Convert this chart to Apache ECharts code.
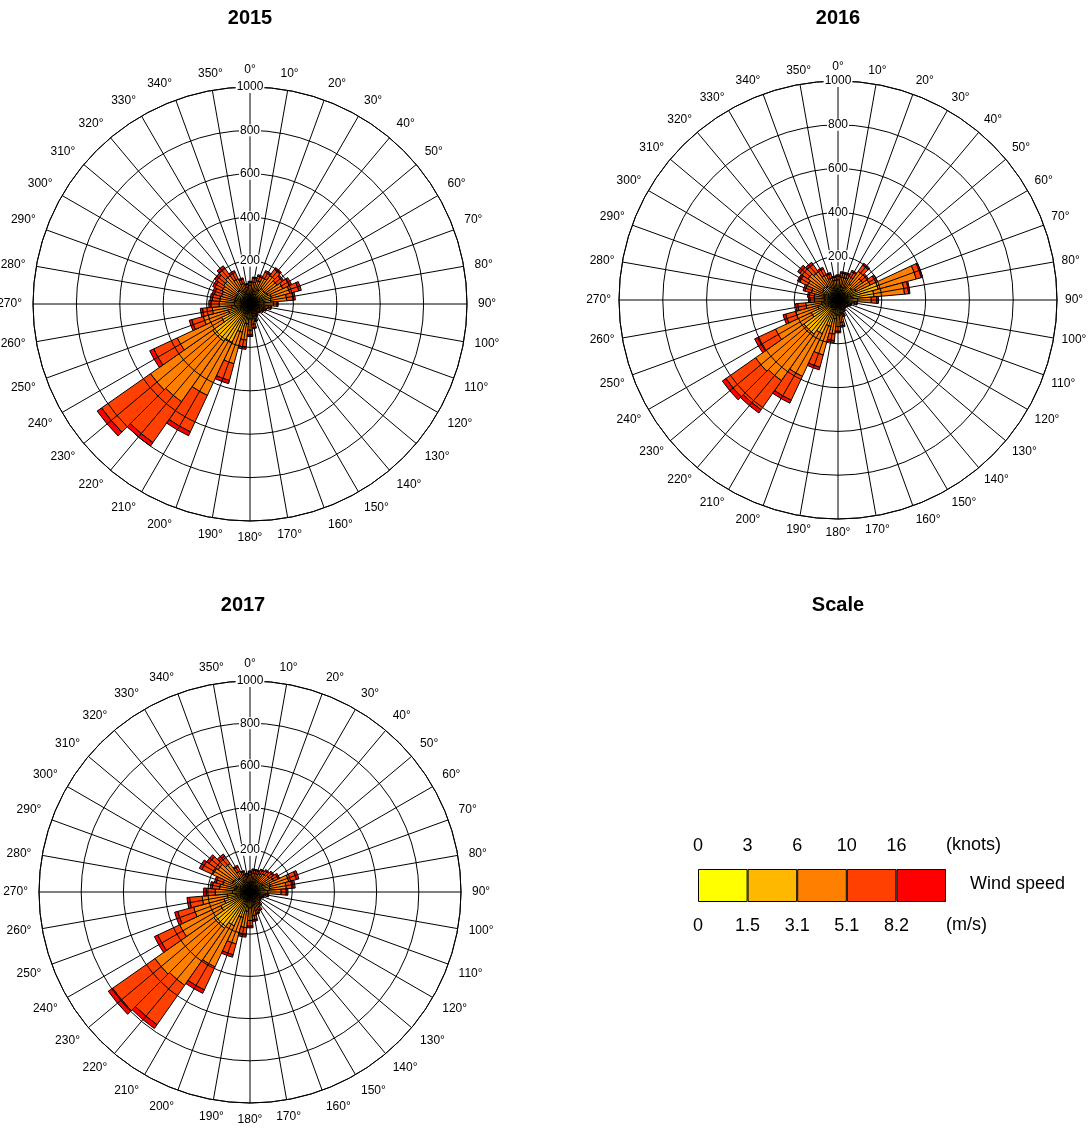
<!DOCTYPE html>
<html><head><meta charset="utf-8">
<script src="https://cdn.jsdelivr.net/npm/echarts@6/dist/echarts.min.js"></script>
<style>html,body{margin:0;padding:0;background:#fff}#c{width:1089px;height:1131px}</style>
</head><body><div id="c"></div>
<script>
// ---------- DATA ----------
const directionLabels = ['0°','10°','20°','30°','40°','50°','60°','70°','80°','90°','100°','110°','120°','130°','140°','150°','160°','170°','180°','190°','200°','210°','220°','230°','240°','250°','260°','270°','280°','290°','300°','310°','320°','330°','340°','350°'];
const years = ['2015', '2016', '2017'];
const speedClasses = ['0-1.5 m/s', '1.5-3.1 m/s', '3.1-5.1 m/s', '5.1-8.2 m/s', '>8.2 m/s'];
const knotsLabels = ['0', '3', '6', '10', '16'];
const msLabels = ['0', '1.5', '3.1', '5.1', '8.2'];
const radiusMin = 0, radiusMax = 1000, radiusStep = 200;
const angleMin = 0, angleMax = 360, angleStep = 10;

// counts per direction (0°..350°), one array per speed class
const y2015_c1 = [15,18,20,24,28,28,30,32,32,22,20,18,16,15,14,15,17,20,24,30,35,45,50,50,35,28,25,22,22,22,22,22,24,22,18,15];
const y2015_c2 = [32,38,42,50,60,58,62,70,65,42,35,28,25,22,20,23,28,36,45,62,100,150,160,160,110,75,60,50,50,48,50,52,55,45,36,30];
const y2015_c3 = [38,45,50,60,72,66,75,88,73,44,30,22,19,15,14,18,26,38,52,75,150,270,340,350,225,120,90,70,68,66,70,74,80,62,45,33];
const y2015_c4 = [15,18,21,28,35,30,35,43,31,17,11,9,7,6,5,7,10,16,22,33,80,185,230,275,120,55,45,38,35,34,37,40,44,32,20,13];
const y2015_c5 = [5,6,7,8,10,8,10,12,9,5,4,3,3,2,2,2,4,5,7,10,15,20,20,25,20,12,10,10,10,10,11,12,12,9,6,4];

const y2016_c1 = [17,20,20,22,28,25,30,40,40,30,18,15,14,13,13,14,16,20,24,28,35,40,45,45,35,26,24,20,20,22,24,25,24,22,19,17];
const y2016_c2 = [35,40,40,45,60,52,62,150,125,60,30,22,19,17,17,20,26,38,45,58,90,130,145,145,100,70,52,40,42,46,55,58,55,45,38,34];
const y2016_c3 = [40,45,45,52,72,60,70,180,140,62,28,19,15,14,14,17,25,45,52,70,135,215,260,270,180,105,72,47,48,58,76,85,78,60,47,39];
const y2016_c4 = [17,19,19,24,35,25,29,24,19,25,10,7,5,4,4,7,10,17,22,30,58,120,162,165,90,47,37,21,23,30,38,44,41,30,20,15];
const y2016_c5 = [6,6,6,7,10,8,9,6,6,8,4,2,2,2,2,2,3,5,7,9,12,15,18,20,15,12,10,7,7,9,12,13,12,8,6,5];

const y2017_c1 = [15,17,17,18,19,20,22,30,30,28,17,15,14,15,16,18,19,22,25,30,35,42,50,50,38,32,28,25,23,22,26,25,24,20,17,15];
const y2017_c2 = [30,33,33,36,39,42,46,70,65,56,30,24,21,22,26,32,35,42,50,62,90,135,160,160,115,95,80,58,52,48,68,65,58,40,32,28];
const y2017_c3 = [36,40,40,43,47,50,55,90,78,64,29,21,17,19,25,33,37,49,60,78,130,215,330,340,215,150,120,82,70,64,100,95,83,50,37,32];
const y2017_c4 = [14,15,15,17,19,21,24,38,32,24,10,7,6,7,10,13,14,20,27,35,53,120,228,245,115,78,60,43,35,32,57,52,43,23,14,11];
const y2017_c5 = [5,5,5,6,6,7,8,12,10,8,4,3,2,2,3,4,5,7,8,10,12,18,22,25,17,15,12,12,10,9,14,13,12,7,5,4];

const roseData = [
  [y2015_c1, y2015_c2, y2015_c3, y2015_c4, y2015_c5],
  [y2016_c1, y2016_c2, y2016_c3, y2016_c4, y2016_c5],
  [y2017_c1, y2017_c2, y2017_c3, y2017_c4, y2017_c5]
];

// ---------- STYLE / LAYOUT ----------
const FONT = 'Liberation Sans, Arial, sans-serif';
const speedColors = ['#FFFF00', '#FFB800', '#FF8000', '#FF4000', '#FF0000'];
const roseLayout = [
  { center: [250, 304], radius: 217, labelMargin: 11 },
  { center: [838, 300], radius: 219, labelMargin: 8 },
  { center: [250, 892], radius: 211, labelMargin: 11 }
];
const titleLayout = [
  { text: '2015', x: 250, y: 8 },
  { text: '2016', x: 838, y: 8 },
  { text: '2017', x: 243, y: 595 },
  { text: 'Scale', x: 838, y: 595 }
];

const chart = echarts.init(document.getElementById('c'), null, { renderer: 'canvas' });

// polar 0..2 : bars (hidden category axes) ; polar 3..5 : grid & labels (value axes)
const polars = roseLayout.map(l => ({ center: l.center, radius: l.radius }))
  .concat(roseLayout.map(l => ({ center: l.center, radius: l.radius })));

const angleAxes = [];
const radiusAxes = [];
roseLayout.forEach((l, i) => {
  angleAxes.push({
    polarIndex: i, type: 'category', data: directionLabels, boundaryGap: false,
    startAngle: 90, clockwise: true,
    axisLine: { show: false }, axisTick: { show: false }, axisLabel: { show: false }, splitLine: { show: false }
  });
  radiusAxes.push({
    polarIndex: i, type: 'value', min: radiusMin, max: radiusMax,
    axisLine: { show: false }, axisTick: { show: false }, axisLabel: { show: false }, splitLine: { show: false }
  });
});
roseLayout.forEach((l, i) => {
  angleAxes.push({
    polarIndex: i + 3, type: 'value', min: angleMin, max: angleMax, interval: angleStep,
    startAngle: 90, clockwise: true, z: 3,
    axisLine: { show: true, lineStyle: { color: '#000', width: 1 } },
    axisTick: { show: false },
    axisLabel: {
      formatter: v => directionLabels[Math.round(v / angleStep)] || '',
      margin: l.labelMargin, fontSize: 12, color: '#000', fontFamily: FONT
    },
    splitLine: { show: true, lineStyle: { color: '#000', width: 1 } }
  });
  radiusAxes.push({
    polarIndex: i + 3, type: 'value', min: radiusMin, max: radiusMax, interval: radiusStep, z: 4,
    axisLine: { show: false }, axisTick: { show: false },
    axisLabel: {
      formatter: v => (v === 0 ? '' : String(v)), align: 'center', verticalAlign: 'middle',
      margin: 0, fontSize: 12, color: '#000', fontFamily: FONT, backgroundColor: '#fff', padding: [0, 1]
    },
    splitLine: { show: true, lineStyle: { color: '#000', width: 1 } }
  });
});

const series = [];
roseData.forEach((classes, pi) => {
  classes.forEach((arr, ci) => {
    series.push({
      type: 'bar', coordinateSystem: 'polar', polarIndex: pi,
      name: years[pi] + ' ' + speedClasses[ci], stack: 'rose' + pi,
      data: arr, barCategoryGap: '0%', z: 2,
      itemStyle: { color: speedColors[ci], borderColor: '#000', borderWidth: 1 }
    });
  });
});
speedClasses.forEach((name, ci) => {
  series.push({
    type: 'bar', xAxisIndex: 1, yAxisIndex: 0, stack: 'scale', name: 'scale ' + name,
    data: [1], barWidth: '100%',
    itemStyle: { color: speedColors[ci], borderColor: '#000', borderWidth: 1 }
  });
});

const option = {
  backgroundColor: '#fff',
  animation: false,
  title: titleLayout.map(t => ({
    text: t.text, left: t.x, top: t.y, textAlign: 'center', padding: 0,
    textStyle: { fontSize: 20, fontWeight: 'bold', color: '#000', fontFamily: FONT }
  })),
  polar: polars,
  angleAxis: angleAxes,
  radiusAxis: radiusAxes,
  grid: { left: 698, top: 869, width: 248, height: 33 },
  xAxis: [
    { type: 'value', position: 'top', min: 0, max: 5, interval: 1,
      axisLine: { show: false }, axisTick: { show: false }, splitLine: { show: false },
      axisLabel: { formatter: v => knotsLabels[v] || '', margin: 14, fontSize: 18, color: '#000', fontFamily: FONT } },
    { type: 'value', position: 'bottom', min: 0, max: 5, interval: 1,
      axisLine: { show: false }, axisTick: { show: false }, splitLine: { show: false },
      axisLabel: { formatter: v => msLabels[v] || '', margin: 15, fontSize: 18, color: '#000', fontFamily: FONT } }
  ],
  yAxis: [{ type: 'category', data: ['Wind speed'], show: false }],
  graphic: [
    { type: 'text', left: 946, top: 836, style: { text: '(knots)', fontSize: 18, fill: '#000', fontFamily: FONT } },
    { type: 'text', left: 946, top: 916, style: { text: '(m/s)', fontSize: 18, fill: '#000', fontFamily: FONT } },
    { type: 'text', left: 970, top: 875, style: { text: 'Wind speed', fontSize: 18, fill: '#000', fontFamily: FONT } }
  ],
  series: series
};
chart.setOption(option);
</script>
</body></html>
